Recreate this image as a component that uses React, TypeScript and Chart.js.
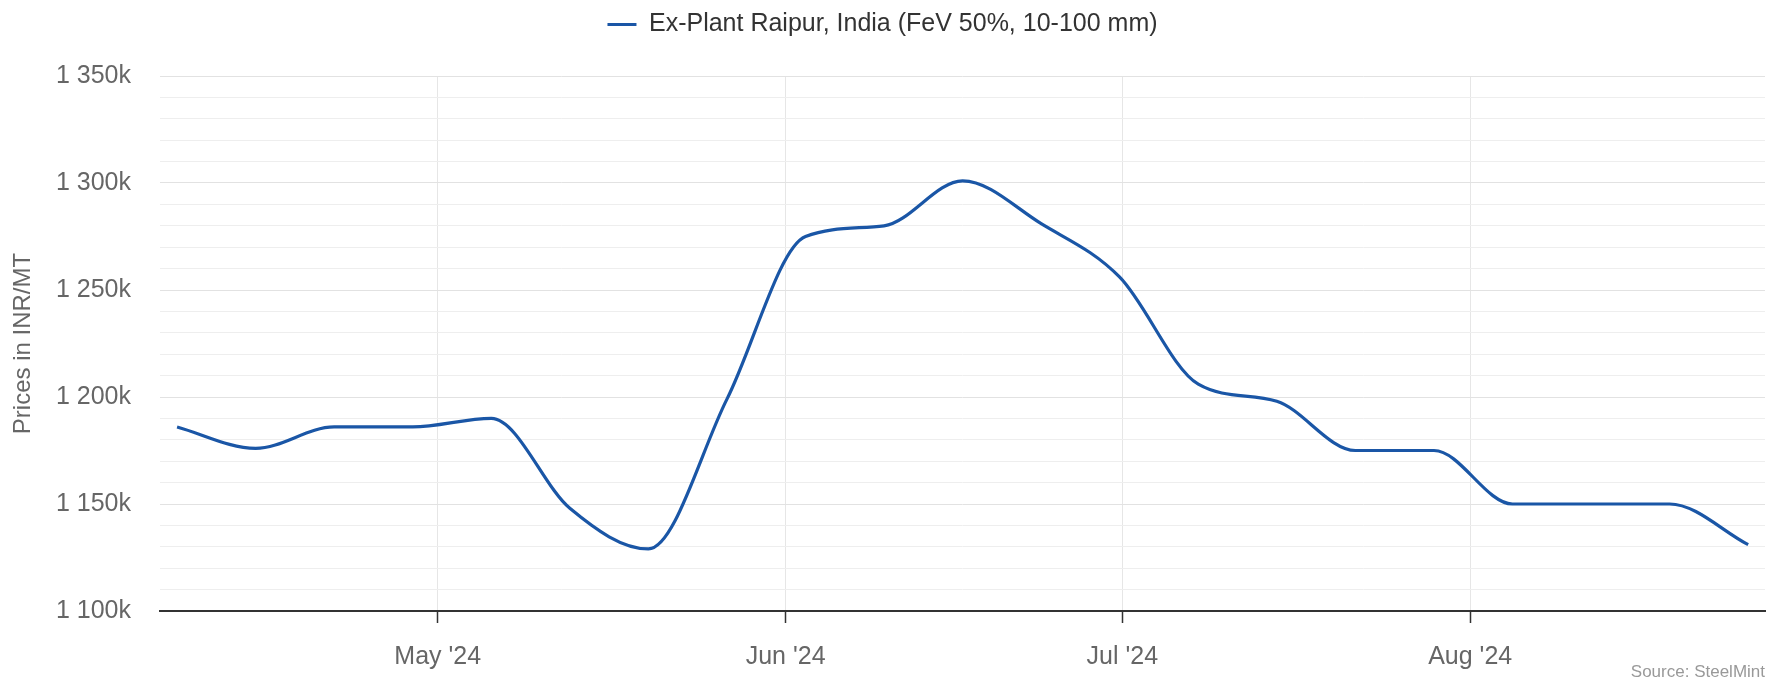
import React, { useEffect, useRef } from "react";
import { Chart, registerables } from "chart.js";

Chart.register(...registerables);

// ---------- data ----------
const SERIES_NAME = "Ex-Plant Raipur, India (FeV 50%, 10-100 mm)";
const Y_TITLE = "Prices in INR/MT";
const SOURCE = "Source: SteelMint";

const dates = [
  "2024-04-08", "2024-04-15", "2024-04-22", "2024-04-29",
  "2024-05-06", "2024-05-13", "2024-05-20", "2024-05-27",
  "2024-06-03", "2024-06-10", "2024-06-17", "2024-06-24",
  "2024-07-01", "2024-07-08", "2024-07-15", "2024-07-22",
  "2024-07-29", "2024-08-05", "2024-08-12", "2024-08-19",
  "2024-08-26",
];
const prices = [
  1186000, 1176000, 1186000, 1186000,
  1190000, 1148000, 1129000, 1199000,
  1275000, 1280000, 1301000, 1281000,
  1256000, 1206000, 1198000, 1175000,
  1175000, 1150000, 1150000, 1150000,
  1131000,
];
const monthTickDates = ["2024-05-01", "2024-06-01", "2024-07-01", "2024-08-01"];
const monthTickLabels = ["May '24", "Jun '24", "Jul '24", "Aug '24"];
const X_MIN = "2024-04-06T06:00:00Z";
const X_MAX = "2024-08-27T06:30:00Z";
const Y_MIN = 1100000;
const Y_MAX = 1350000;
const Y_STEP = 10000;
const Y_LABEL_STEP = 50000;

// ---------- styles ----------
const FONT = "'Liberation Sans', Arial, Helvetica, sans-serif";
const LINE_COLOR = "#1a56a6";

const istTime = (d: string) => Date.parse(d + "T00:00:00+05:30");
const utcTime = (d: string) => Date.parse(d + "T00:00:00Z");

const fmtY = (v: number) => {
  const k = Math.round(v / 1000);
  const th = Math.floor(k / 1000);
  const rest = String(k % 1000).padStart(3, "0");
  return th > 0 ? `${th} ${rest}k` : `${k}k`;
};

export default function App() {
  const ref = useRef<HTMLCanvasElement>(null);

  useEffect(() => {
    document.body.style.margin = "0";
    const canvas = ref.current!;
    const monthTicks = monthTickDates.map(utcTime);
    const yTicks: number[] = [];
    for (let v = Y_MIN; v <= Y_MAX; v += Y_STEP) yTicks.push(v);

    const sourcePlugin = {
      id: "sourceText",
      afterDraw(chart: any) {
        const ctx = chart.ctx;
        ctx.save();
        ctx.font = `17px ${FONT}`;
        ctx.fillStyle = "#999999";
        ctx.textAlign = "right";
        ctx.textBaseline = "alphabetic";
        ctx.fillText(SOURCE, chart.chartArea.right, chart.height - 4);
        ctx.restore();
      },
    };
    const legendHeightPlugin = {
      id: "legendHeight",
      beforeLayout(chart: any) {
        const lg = chart.legend;
        if (lg && !lg.__patched) {
          const orig = lg.fit.bind(lg);
          lg.fit = function () {
            orig();
            this.height = 76;
          };
          lg.__patched = true;
        }
      },
    };

    const chart = new Chart(canvas, {
      type: "line",
      data: {
        datasets: [
          {
            label: SERIES_NAME,
            data: dates.map((d, i) => ({ x: istTime(d), y: prices[i] })),
            borderColor: LINE_COLOR,
            backgroundColor: LINE_COLOR,
            borderWidth: 3.2,
            pointRadius: 0,
            pointHoverRadius: 0,
            cubicInterpolationMode: "monotone",
            fill: false,
          },
        ],
      },
      options: {
        responsive: false,
        animation: false,
        devicePixelRatio: 1,
        layout: { padding: { left: 0, right: 18, top: 0, bottom: 0 } },
        plugins: {
          legend: {
            position: "top",
            align: "center",
            labels: {
              font: { family: FONT, size: 25 },
              color: "#333333",
              boxWidth: 29,
              boxHeight: 3,
              padding: 12,
              generateLabels: (c: any) =>
                c.data.datasets.map((ds: any, i: number) => ({
                  text: ds.label,
                  fillStyle: ds.borderColor,
                  strokeStyle: ds.borderColor,
                  lineWidth: 0,
                  hidden: false,
                  datasetIndex: i,
                  fontColor: "#333333",
                })),
            },
          },
          tooltip: { enabled: false },
        },
        scales: {
          x: {
            type: "linear",
            min: Date.parse(X_MIN),
            max: Date.parse(X_MAX),
            afterBuildTicks: (s: any) => {
              s.ticks = monthTicks.map((v) => ({ value: v }));
            },
            afterFit: (s: any) => {
              s.height = 70;
            },
            ticks: {
              autoSkip: false,
              maxRotation: 0,
              font: { family: FONT, size: 25 },
              color: "#666666",
              padding: 19,
              callback: (v: any) => {
                const i = monthTicks.indexOf(Number(v));
                return i >= 0 ? monthTickLabels[i] : "";
              },
            },
            grid: {
              color: "#e6e6e6",
              lineWidth: 1,
              drawTicks: true,
              tickLength: 12,
              tickColor: "#333333",
              tickWidth: 1.5,
            },
            border: { display: true, color: "#333333", width: 2 },
          },
          y: {
            min: Y_MIN,
            max: Y_MAX,
            afterBuildTicks: (s: any) => {
              s.ticks = yTicks.map((v) => ({ value: v }));
            },
            afterFit: (s: any) => {
              s.width = 160;
            },
            ticks: {
              autoSkip: false,
              font: { family: FONT, size: 25 },
              color: "#666666",
              padding: 29,
              callback: (v: any) => (Number(v) % Y_LABEL_STEP === 0 ? fmtY(Number(v)) : ""),
            },
            grid: {
              drawTicks: false,
              lineWidth: 1,
              color: (ctx: any) =>
                ctx.tick && ctx.tick.value % Y_LABEL_STEP === 0 ? "#e2e2e2" : "#eeeeee",
            },
            border: { display: false },
            title: {
              display: true,
              text: Y_TITLE,
              font: { family: FONT, size: 24 },
              color: "#666666",
              padding: { top: 9, bottom: 0 },
            },
          },
        },
      } as any,
      plugins: [legendHeightPlugin, sourcePlugin],
    });
    return () => chart.destroy();
  }, []);

  return (
    <canvas
      ref={ref}
      width={1783}
      height={681}
      style={{ display: "block", width: "1783px", height: "681px" }}
    />
  );
}
